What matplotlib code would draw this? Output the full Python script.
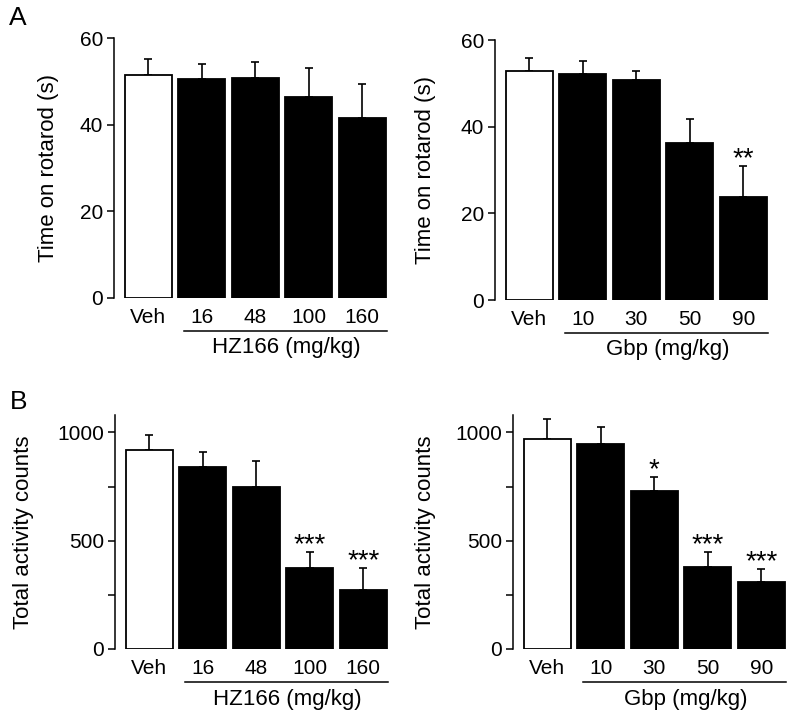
import matplotlib
matplotlib.use("Agg")
import matplotlib.pyplot as plt
import matplotlib.transforms as mtransforms
import numpy as np

plt.rcParams['font.family'] = ['Liberation Sans', 'DejaVu Sans']

# data
hz_labels = ['Veh', '16', '48', '100', '160']
gbp_labels = ['Veh', '10', '30', '50', '90']

rotarod_hz = [51.4, 50.5, 50.8, 46.5, 41.6]
rotarod_hz_sem = [3.7, 3.4, 3.6, 6.5, 7.8]
rotarod_hz_sig = ['', '', '', '', '']

rotarod_gbp = [52.9, 52.2, 50.8, 36.2, 23.7]
rotarod_gbp_sem = [2.9, 3.0, 2.0, 5.5, 7.2]
rotarod_gbp_sig = ['', '', '', '', '**']

activity_hz = [917, 841, 749, 373, 271]
activity_hz_sem = [71, 70, 119, 73, 105]
activity_hz_sig = ['', '', '', '***', '***']

activity_gbp = [970, 948, 729, 378, 311]
activity_gbp_sem = [90, 76, 63, 68, 57]
activity_gbp_sig = ['', '', '*', '***', '***']

W, H = 800, 718
fig = plt.figure(figsize=(W / 100, H / 100), dpi=100)


def px_axes(left, top, bottom, width):
    # pixel box -> figure fraction
    return fig.add_axes([left / W, 1 - bottom / H, width / W, (bottom - top) / H])


def bar_panel(ax, labels, vals, sem, sig, ylim, yticks, minor, ylabel, group, ylab_px):
    x = np.arange(len(vals))
    colors = ['white'] + ['black'] * (len(vals) - 1)
    ax.errorbar(x, vals, yerr=[np.zeros(len(vals)), sem], fmt='none',
                ecolor='black', elinewidth=1.2, capsize=2.6, capthick=1.2, zorder=1)
    ax.bar(x, vals, width=0.87, color=colors, edgecolor='black', linewidth=1.3, zorder=2)
    for xi, v, s, t in zip(x, vals, sem, sig):
        if t:
            ax.annotate(t, (xi, v + s), xytext=(0, -4.5), textcoords='offset points',
                        ha='center', va='bottom', fontsize=20)
    ax.set_xlim(-0.64, 4.5)
    ax.set_ylim(*ylim)
    ax.set_yticks(yticks)
    ax.set_yticks(minor, minor=True)
    ax.set_xticks(x)
    ax.set_xticklabels(labels)
    ax.tick_params(axis='x', length=0, pad=7, labelsize=15)
    ax.tick_params(axis='y', which='both', length=5, width=1.1, direction='out',
                   pad=3, labelsize=15)
    for s in ['top', 'right', 'bottom']:
        ax.spines[s].set_visible(False)
    ax.spines['left'].set_linewidth(1.1)
    ax.set_ylabel(ylabel, fontsize=16)
    bbox = ax.get_position()
    ax_w = bbox.width * W
    ax_h = bbox.height * H
    ax.yaxis.set_label_coords(-ylab_px / ax_w, 0.5)
    tr = mtransforms.blended_transform_factory(ax.transData, ax.transAxes)
    y_line = -33 / ax_h
    ax.plot([0.66, 4.46], [y_line, y_line], color='black', lw=1.1,
            transform=tr, clip_on=False)
    ax.text(2.58, -50 / ax_h, group, transform=tr, ha='center', va='center', fontsize=16)


ax1 = px_axes(114, 38, 298, 275)
bar_panel(ax1, hz_labels, rotarod_hz, rotarod_hz_sem, rotarod_hz_sig,
          (0, 60), [0, 20, 40, 60], [], 'Time on rotarod (s)', 'HZ166 (mg/kg)', 55)

ax2 = px_axes(495, 40, 300, 275)
bar_panel(ax2, gbp_labels, rotarod_gbp, rotarod_gbp_sem, rotarod_gbp_sig,
          (0, 60), [0, 20, 40, 60], [], 'Time on rotarod (s)', 'Gbp (mg/kg)', 59)

ax3 = px_axes(115, 415, 649, 275)
bar_panel(ax3, hz_labels, activity_hz, activity_hz_sem, activity_hz_sig,
          (0, 1080), [0, 500, 1000], [250, 750], 'Total activity counts', 'HZ166 (mg/kg)', 81)

ax4 = px_axes(513, 415, 649, 275)
bar_panel(ax4, gbp_labels, activity_gbp, activity_gbp_sem, activity_gbp_sig,
          (0, 1080), [0, 500, 1000], [250, 750], 'Total activity counts', 'Gbp (mg/kg)', 77)

fig.text(18 / W, 1 - 18 / H, 'A', fontsize=19, ha='center', va='center')
fig.text(18.5 / W, 1 - 402 / H, 'B', fontsize=19, ha='center', va='center')

fig.savefig('out.png', dpi=100)
